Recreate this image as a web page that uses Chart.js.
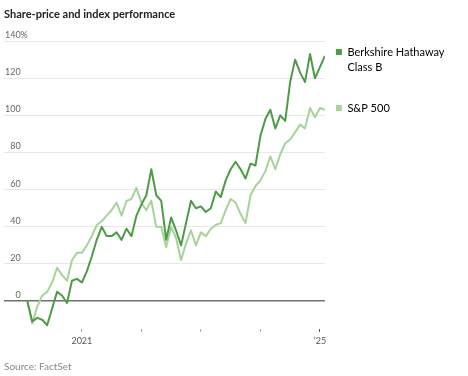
<!DOCTYPE html>
<html>
<head>
<meta charset="utf-8">
<script src="https://cdn.jsdelivr.net/npm/chart.js@4/dist/chart.umd.min.js"></script>
<style>
  html, body { margin: 0; padding: 0; background: #fff; }
  #wrap { width: 468px; height: 376px; }
</style>
</head>
<body>
<div id="wrap"><canvas id="chart"></canvas></div>
<script>
// month-end points, Feb 2020 .. Feb 2025
const months = [
  'Feb 2020', 'Mar 2020', 'Apr 2020', 'May 2020', 'Jun 2020', 'Jul 2020', 'Aug 2020', 'Sep 2020', 'Oct 2020', 'Nov 2020', 'Dec 2020',
  'Jan 2021', 'Feb 2021', 'Mar 2021', 'Apr 2021', 'May 2021', 'Jun 2021', 'Jul 2021', 'Aug 2021', 'Sep 2021', 'Oct 2021', 'Nov 2021', 'Dec 2021',
  'Jan 2022', 'Feb 2022', 'Mar 2022', 'Apr 2022', 'May 2022', 'Jun 2022', 'Jul 2022', 'Aug 2022', 'Sep 2022', 'Oct 2022', 'Nov 2022', 'Dec 2022',
  'Jan 2023', 'Feb 2023', 'Mar 2023', 'Apr 2023', 'May 2023', 'Jun 2023', 'Jul 2023', 'Aug 2023', 'Sep 2023', 'Oct 2023', 'Nov 2023', 'Dec 2023',
  'Jan 2024', 'Feb 2024', 'Mar 2024', 'Apr 2024', 'May 2024', 'Jun 2024', 'Jul 2024', 'Aug 2024', 'Sep 2024', 'Oct 2024', 'Nov 2024', 'Dec 2024',
  'Jan 2025', 'Feb 2025'
]

// % change since Feb 2020
const berkshire = [
  0, -11, -9, -10, -13, -4, 5, 3, -1, 11, 12,
  10, 16, 24, 33, 40, 35, 35, 37, 33, 39, 35, 46,
  52, 57, 71, 57, 54, 33, 45, 38, 30, 42, 54, 50,
  51, 48, 50, 59, 56, 65, 71, 75, 71, 66, 74, 73,
  89, 98, 103, 93, 100, 97, 118, 130, 123, 118, 133, 120,
  126, 132
]
const sp500 = [
  0, -12, -3, 3, 5, 10, 18, 14, 11, 22, 26,
  26, 30, 35, 41, 43, 46, 49, 53, 46, 54, 55, 61,
  53, 49, 54, 40, 40, 29, 40, 34, 22, 31, 38, 30,
  37, 35, 39, 41, 42, 49, 55, 53, 47, 42, 57, 62,
  65, 70, 78, 71, 79, 85, 87, 91, 95, 93, 104, 99,
  104, 103
]

const seriesNames = ['Berkshire Hathaway Class B', 'S&P 500']
const legendLines = [['Berkshire Hathaway', 'Class B', ''], ['S&P 500']]
const seriesColors = ['#4e9b47', '#a6d498']

const yTicks = [0, 20, 40, 60, 80, 100, 120, 140]
const xTickMonths = ['Jan 2021', 'Jan 2022', 'Jan 2023', 'Jan 2024', 'Jan 2025']
const xTickLabels = ['2021', '', '', '', '\u201925']

const FONT = 'Lato, "Open Sans", sans-serif'

function toPoints (values) {
  return values.map((v, i) => ({ x: i, y: v }))
}

const xTickValues = xTickMonths.map((m) => months.indexOf(m))

// mirrored y labels should not take room from the plot
const zeroWidth = (axis) => { axis.width = 0 }

const chart = new Chart(document.getElementById('chart').getContext('2d'), {
  type: 'line',
  data: {
    datasets: [
      {
        label: seriesNames[0],
        data: toPoints(berkshire),
        borderColor: seriesColors[0],
        backgroundColor: seriesColors[0],
        borderWidth: 2,
        pointRadius: 0,
        tension: 0,
        borderJoinStyle: 'round',
        yAxisID: 'y'
      },
      {
        label: seriesNames[1],
        data: toPoints(sp500),
        borderColor: seriesColors[1],
        backgroundColor: seriesColors[1],
        borderWidth: 2,
        pointRadius: 0,
        tension: 0,
        borderJoinStyle: 'round',
        yAxisID: 'y'
      }
    ]
  },
  options: {
    responsive: true,
    maintainAspectRatio: false,
    animation: false,
    layout: { padding: { left: 4, right: 13.5, top: 0, bottom: 0 } },
    scales: {
      x: {
        type: 'linear',
        min: -4.7,
        max: 60,
        border: { display: false },
        grid: {
          drawOnChartArea: false,
          drawTicks: true,
          tickLength: 3,
          tickColor: (ctx) => (ctx.index === xTickValues.length - 1 ? '#555' : '#aaa')
        },
        afterBuildTicks: (axis) => {
          axis.ticks = xTickValues.map((v) => ({ value: v }))
        },
        ticks: {
          autoSkip: false,
          maxRotation: 0,
          padding: 4,
          color: '#555',
          font: { family: FONT, size: 9 },
          callback: (value, index) => xTickLabels[index]
        }
      },
      y: {
        position: 'left',
        min: -15,
        max: 143,
        border: { display: false },
        grid: {
          drawTicks: false,
          color: (ctx) => (ctx.tick && ctx.tick.value === 0 ? '#707070' : '#e8e8e8'),
          lineWidth: (ctx) => (ctx.tick && ctx.tick.value === 0 ? 1.5 : 1)
        },
        afterBuildTicks: (axis) => {
          axis.ticks = yTicks.map((v) => ({ value: v }))
        },
        afterFit: zeroWidth,
        ticks: {
          mirror: true,
          crossAlign: 'far',
          padding: 1,
          labelOffset: -6,
          color: '#666',
          font: { family: FONT, size: 9 },
          callback: (value) => String(value)
        }
      },
      yPct: {
        position: 'left',
        min: -15,
        max: 143,
        border: { display: false },
        grid: { display: false, drawTicks: false },
        afterBuildTicks: (axis) => {
          axis.ticks = [{ value: yTicks[yTicks.length - 1] }]
        },
        afterFit: zeroWidth,
        ticks: {
          mirror: true,
          crossAlign: 'near',
          padding: 16.5,
          labelOffset: -6,
          color: '#666',
          font: { family: FONT, size: 9 },
          callback: () => '%'
        }
      }
    },
    plugins: {
      title: {
        display: true,
        text: 'Share-price and index performance',
        align: 'start',
        color: '#222',
        font: { family: FONT, size: 11, weight: 'bold', lineHeight: 1.2 },
        padding: { top: 7.4, bottom: 14.9 }
      },
      subtitle: {
        display: true,
        position: 'bottom',
        text: 'Source: FactSet',
        align: 'start',
        color: '#888',
        font: { family: FONT, size: 10, lineHeight: 1.2 },
        padding: { top: 10.2, bottom: 3 }
      },
      legend: {
        display: true,
        position: 'right',
        align: 'start',
        fullSize: false,
        maxWidth: 150,
        labels: {
          boxWidth: 6,
          boxHeight: 6,
          padding: 11,
          color: '#444',
          font: { family: FONT, size: 11, lineHeight: 15 / 11 },
          generateLabels: () => legendLines.map((lines, i) => ({
            text: lines,
            fillStyle: seriesColors[i],
            strokeStyle: seriesColors[i],
            lineWidth: 0,
            hidden: false,
            datasetIndex: i
          }))
        }
      },
      tooltip: { enabled: false }
    }
  }
})
</script>
</body>
</html>
